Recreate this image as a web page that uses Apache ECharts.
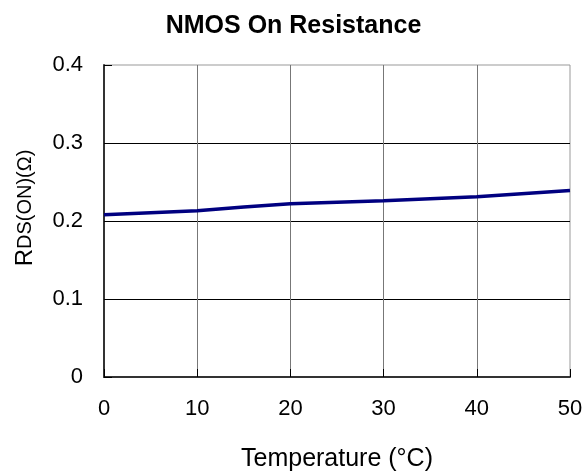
<!DOCTYPE html>
<html>
<head>
<meta charset="utf-8">
<script src="https://cdn.jsdelivr.net/npm/echarts@6/dist/echarts.min.js"></script>
<style>
  html, body { margin: 0; padding: 0; background: #fff; }
  #chart-root { width: 587px; height: 472px; }
</style>
</head>
<body>
<div id="chart-root"></div>
<script>
// temperature (°C) and on resistance (Ω)
const temps = [0, 10, 15, 20, 30, 40, 50]
const rdsOn = [0.208, 0.213, 0.218, 0.222, 0.226, 0.231, 0.239]
const xTicks = [0, 10, 20, 30, 40, 50]
const yTicks = [0, 0.1, 0.2, 0.3, 0.4]

const font = "'Liberation Sans', Arial, sans-serif"
let chart = echarts.init(document.getElementById('chart-root'))

let option = {
  animation: false,
  backgroundColor: '#fff',
  textStyle: { fontFamily: font, color: '#000' },
  title: {
    text: 'NMOS On Resistance',
    left: 'center',
    top: 9,
    textStyle: { fontFamily: font, fontSize: 25, fontWeight: 'bold', color: '#000' }
  },
  grid: {
    left: 104,
    right: 17,
    top: 65,
    bottom: 95,
    outerBoundsMode: 'none',
    containLabel: false,
    show: true,
    borderColor: '#999',
    borderWidth: 1
  },
  xAxis: {
    type: 'value',
    min: xTicks[0],
    max: xTicks[xTicks.length - 1],
    interval: 10,
    name: 'Temperature (°C)',
    nameLocation: 'middle',
    nameGap: 70,
    nameTextStyle: { fontFamily: font, fontSize: 25, color: '#000' },
    axisLine: { lineStyle: { color: '#333', width: 2 } },
    axisTick: { inside: true, length: 8, lineStyle: { color: '#000' } },
    axisLabel: { margin: 21, fontSize: 22, color: '#000', fontFamily: font },
    splitLine: { show: true, showMaxLine: false, lineStyle: { color: '#777', width: 1 } }
  },
  yAxis: {
    type: 'value',
    min: yTicks[0],
    max: yTicks[yTicks.length - 1],
    interval: 0.1,
    name: '{r|R}{s|DS(ON)(Ω)}',
    nameLocation: 'middle',
    nameGap: 67,
    nameTextStyle: {
      padding: [0, 0, 0, 26],
      rich: {
        r: { fontFamily: font, fontSize: 24, color: '#000' },
        s: { fontFamily: font, fontSize: 20, color: '#000' }
      }
    },
    axisLine: { show: true, lineStyle: { color: '#333', width: 2 } },
    axisTick: { show: true, inside: true, length: 8, lineStyle: { color: '#000' } },
    axisLabel: {
      margin: 21,
      fontSize: 22,
      color: '#000',
      fontFamily: font,
      formatter: v => (v === 0 ? '0' : v.toFixed(1))
    },
    splitLine: { show: true, showMaxLine: false, lineStyle: { color: '#000', width: 1 } }
  },
  series: [
    {
      type: 'line',
      showSymbol: false,
      smooth: false,
      lineStyle: { color: '#000080', width: 3.5 },
      data: temps.map((t, i) => [t, rdsOn[i]])
    }
  ]
}

chart.setOption(option)
</script>
</body>
</html>
